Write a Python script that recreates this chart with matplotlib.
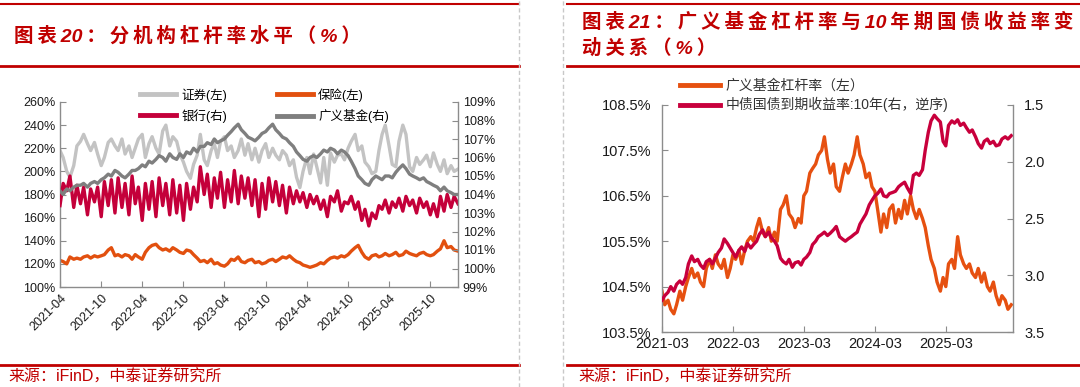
import numpy as np
import pandas as pd
import matplotlib
matplotlib.use('Agg')
import matplotlib.pyplot as plt
from matplotlib.lines import Line2D
from matplotlib.ticker import FuncFormatter, MultipleLocator

plt.rcParams['font.family'] = ['Liberation Sans', 'Noto Sans CJK SC']

# ---------------- data: chart 20 (half-month points, 2021-04 .. 2026-02)
left_dates = pd.date_range('2021-04-01', '2026-02-01', freq='SMS')

securities = [  # 证券(左)
    218, 212, 200, 195, 205, 222, 226, 232, 224, 218, 225, 215, 205, 212, 225, 228, 222, 218,
    228, 215, 222, 212, 220, 228, 232, 212, 224, 230, 220, 215, 235, 240, 222, 230, 226, 215, 208, 200, 194, 206, 214, 232,
    210, 205, 218, 224, 212, 226, 230, 218, 222, 212, 218, 228, 214, 224, 210, 220, 208, 218, 224, 212, 220, 214, 210, 218,
    214, 205, 210, 195, 186, 200, 212, 198, 215, 204, 190, 212, 188, 216, 208, 214, 215, 210, 220, 226, 232, 218, 222, 208,
    204, 198, 200, 218, 232, 240, 222, 206, 204, 226, 240, 232, 204, 200, 212, 206, 210, 214, 204, 216, 206, 200, 210, 198,
    205, 200, 202]

insurance = [  # 保险(左)
    123, 122, 120, 126, 124, 125, 124, 126, 127, 125, 127, 126, 127, 128, 132, 134, 127, 128,
    126, 128, 127, 124, 128, 126, 124, 130, 134, 136, 137, 134, 132, 133, 131, 134, 132, 130, 129, 132, 131, 128, 125, 122,
    123, 121, 124, 120, 121, 119, 118, 120, 124, 123, 126, 122, 121, 123, 124, 121, 122, 120, 121, 123, 124, 122, 124, 126,
    125, 127, 124, 122, 121, 119, 118, 117, 118, 119, 121, 120, 123, 125, 126, 125, 127, 126, 128, 131, 134, 136, 130, 126,
    124, 127, 128, 126, 127, 129, 127, 128, 130, 127, 128, 131, 129, 128, 127, 129, 130, 128, 127, 128, 131, 133, 140, 134,
    135, 132, 131]

banks = [  # 银行(右)
    103.4, 104.6, 104.2, 105.0, 103.3, 104.5, 103.5, 104.4, 102.9, 104.3, 103.6, 104.4, 102.8, 104.7, 103.4, 104.8, 103.0, 104.9,
    103.3, 104.6, 102.9, 105.0, 103.5, 104.4, 102.6, 104.6, 103.2, 104.7, 102.8, 104.9, 103.4, 104.6, 102.9, 104.8, 103.0, 104.5,
    102.6, 104.6, 103.2, 104.4, 103.6, 105.5,
    104.0, 105.1, 103.3, 104.9, 103.8, 105.2, 103.3, 104.8, 103.6, 105.3, 103.5, 105.0, 103.8, 104.9, 103.4, 104.8, 102.8, 104.6,
    103.2, 104.9, 103.6, 104.7, 103.4, 104.5,
    103.0, 104.4, 103.5, 104.2, 103.6, 104.1, 103.3, 104.0, 103.5, 103.9, 103.2, 103.7, 102.8, 103.9, 103.6, 104.2, 103.1, 103.6,
    103.5, 103.9, 103.2, 103.6, 102.6, 103.2,
    102.3, 103.0, 102.7, 103.4, 103.2, 103.7, 103.0, 103.6, 103.3, 103.8, 103.1, 103.9, 103.4, 103.7, 103.0, 103.8, 103.3, 103.6,
    102.9, 103.5, 102.8, 103.9, 103.1, 104.0,
    103.3, 103.9, 103.5]

funds = [  # 广义基金(右)
    104.2, 104.0, 104.3, 104.2, 104.4, 104.5, 104.5, 104.6, 104.4, 104.6, 104.7, 104.6, 104.8, 104.9, 105.1, 105.0, 105.3, 105.2,
    105.0, 104.9, 105.1, 105.3, 105.3, 105.4, 105.6, 105.5, 105.8, 105.7, 105.9, 106.1, 106.0, 105.8, 106.2, 106.0, 105.9, 106.2,
    106.0, 106.3, 106.2, 106.5, 106.3, 106.6,
    106.6, 106.8, 106.7, 107.0, 106.8, 106.9, 107.0, 107.2, 107.4, 107.6, 107.8, 107.5, 107.3, 107.1, 107.0, 106.9, 107.1, 107.3,
    107.4, 107.6, 107.8, 107.5, 107.3, 107.1,
    107.0, 106.8, 106.6, 106.3, 106.1, 105.9, 105.8, 106.0, 106.1, 106.0, 106.2, 106.4, 106.3, 106.5, 106.4, 106.2, 106.4, 106.3,
    106.1, 105.8, 105.4, 105.0, 104.8, 104.6,
    104.5, 104.8, 105.0, 104.9, 104.8, 105.0, 105.0, 104.9, 105.2, 105.4, 105.6, 105.4, 105.1, 105.0, 104.9, 104.8, 104.9, 104.7,
    104.6, 104.5, 104.4, 104.2, 104.4, 104.2,
    104.1, 104.0, 104.0]

left_ticks = pd.date_range('2021-04-01', '2025-10-01', freq='6MS')

# ---------------- data: chart 21 (half-month points, 2021-03 .. 2026-02)
right_dates = pd.date_range('2021-03-01', '2026-02-01', freq='SMS')

fund_leverage = [  # 广义基金杠杆率（左）
    104.4, 104.1, 104.2, 104.0, 103.9, 104.1, 104.4, 104.2, 104.5, 104.7, 104.9, 104.7, 104.8, 104.6, 104.5, 104.9, 105.1, 104.9,
    105.2, 105.0,
    104.9, 105.1, 104.7, 104.9, 105.2, 105.1, 105.3, 105.0, 105.3, 105.5, 105.6, 105.5, 105.8, 106.0, 105.7, 105.6, 105.8, 105.5,
    105.7, 105.5, 106.2, 106.3, 106.5, 106.1,
    106.0, 105.8, 106.0, 105.9, 106.5, 106.6, 107.0, 107.1, 107.2, 107.4, 107.5, 107.8, 107.3, 107.0, 107.2, 106.7, 106.6, 106.9,
    107.2, 107.0, 107.2, 107.4, 107.8, 107.4,
    107.2, 106.9, 107.0, 106.7, 106.6, 106.2, 105.7, 106.1, 105.8, 106.2, 106.3, 105.9, 106.2, 106.0, 106.4, 106.1, 106.5, 106.2,
    106.0, 106.2, 106.0, 105.8, 105.4, 105.1,
    104.9, 104.6, 104.4, 104.7, 104.5, 105.0, 105.1, 104.9, 105.6, 105.2, 105.0, 104.9, 105.0, 104.8, 104.7, 104.9, 104.6, 104.8,
    104.5, 104.4, 104.6, 104.3, 104.1, 104.3,
    104.2, 104.0, 104.1]

yield_10y = [  # 中债国债到期收益率:10年(右，逆序)
    3.22, 3.18, 3.15, 3.10, 3.14, 3.08, 3.05, 3.08, 3.02, 2.90, 2.83, 2.88, 2.86, 2.91, 2.94, 2.88, 2.86, 2.90, 2.85, 2.80,
    2.76, 2.68, 2.72, 2.76, 2.80, 2.84, 2.78, 2.75, 2.79, 2.72, 2.76, 2.73, 2.70, 2.64, 2.60, 2.66, 2.62, 2.67, 2.70, 2.74,
    2.85, 2.88, 2.90, 2.86,
    2.93, 2.89, 2.88, 2.91, 2.86, 2.84, 2.80, 2.73, 2.70, 2.66, 2.64, 2.62, 2.65, 2.63, 2.60, 2.57, 2.66, 2.68, 2.70, 2.68,
    2.66, 2.64, 2.62, 2.55,
    2.50, 2.46, 2.38, 2.34, 2.30, 2.28, 2.24, 2.30, 2.31, 2.28, 2.27, 2.26, 2.22, 2.20, 2.18, 2.23, 2.28, 2.12, 2.10, 2.12,
    2.07, 1.90, 1.74, 1.64,
    1.59, 1.62, 1.65, 1.82, 1.86, 1.68, 1.64, 1.66, 1.63, 1.68, 1.66, 1.70, 1.74, 1.72, 1.78, 1.84, 1.88, 1.82, 1.80, 1.84,
    1.82, 1.86, 1.85, 1.80,
    1.78, 1.80, 1.77]

right_ticks = pd.date_range('2021-03-01', '2025-03-01', freq='12MS')

RED = '#C00000'
SPINE = '#8c8c8c'
LW = 2.4

fig = plt.figure(figsize=(10.8, 3.87), dpi=100)
W, H = 1080, 387


def fx(px):
    return px / W


def fy(py):
    return 1 - py / H


def spaced(s):
    # titles in the source are letter-spaced; digits stay together
    out = s[0]
    for a, b in zip(s, s[1:]):
        out += b if (a.isdigit() and b.isdigit()) else '\u2009' + b
    return out


def style_axes(ax, sides):
    for s in ['top', 'left', 'right', 'bottom']:
        ax.spines[s].set_visible(s in sides)
        ax.spines[s].set_color(SPINE)
        ax.spines[s].set_linewidth(1.0)
    ax.tick_params(direction='in', length=4, width=0.8, color=SPINE, colors='#1a1a1a')
    ax.set_facecolor('none')


# ---------------- chart 20
ax1 = fig.add_axes([fx(60), fy(287), fx(398), 185 / H])
ax1b = ax1.twinx()
ax1.plot(left_dates, securities, color='#c3c3c3', lw=LW, label='证券(左)')
ax1.plot(left_dates, insurance, color='#e2500f', lw=LW, label='保险(左)')
ax1b.plot(left_dates, banks, color='#c4003a', lw=LW, label='银行(右)')
ax1b.plot(left_dates, funds, color='#7f7f7f', lw=LW, label='广义基金(右)')

ax1.set_ylim(100, 260)
ax1.yaxis.set_major_locator(MultipleLocator(20))
ax1.yaxis.set_major_formatter(FuncFormatter(lambda v, p: f'{v:.0f}%'))
ax1b.set_ylim(99, 109)
ax1b.yaxis.set_major_locator(MultipleLocator(1))
ax1b.yaxis.set_major_formatter(FuncFormatter(lambda v, p: f'{v:.0f}%'))
ax1.set_xlim(pd.Timestamp('2021-04-01'), pd.Timestamp('2026-02-01'))
ax1.set_xticks(left_ticks)
ax1.set_xticklabels([d.strftime('%Y-%m') for d in left_ticks], rotation=45,
                    ha='right', rotation_mode='anchor')
style_axes(ax1, ['left', 'bottom'])
style_axes(ax1b, ['right'])
ax1b.spines['left'].set_visible(False)
ax1b.spines['bottom'].set_visible(False)
ax1.tick_params(labelsize=9)
ax1b.tick_params(labelsize=9)
ax1.tick_params(axis='x', pad=4)

h1, l1 = ax1.get_legend_handles_labels()
h2, l2 = ax1b.get_legend_handles_labels()
handles = [h1[0], h2[0], h1[1], h2[1]]
labels = [l1[0], l2[0], l1[1], l2[1]]
leg1 = fig.legend(handles, labels, ncol=2, loc='upper left',
                  bbox_to_anchor=(fx(140), fy(88)), frameon=False, fontsize=9,
                  handlelength=2.9, handletextpad=0.4, columnspacing=4.0,
                  labelspacing=0.6, borderpad=0, borderaxespad=0)
for ln in leg1.get_lines():
    ln.set_linewidth(3.5)

# ---------------- chart 21
ax2 = fig.add_axes([fx(662), fy(332), fx(351), 227 / H])
ax2b = ax2.twinx()
ax2.plot(right_dates, fund_leverage, color='#e65010', lw=LW, label='广义基金杠杆率（左）')
ax2b.plot(right_dates, yield_10y, color='#c8003c', lw=LW, label='中债国债到期收益率:10年(右，逆序)')
ax2.set_ylim(103.5, 108.5)
ax2.set_yticks(np.arange(103.5, 108.6, 1.0))
ax2.yaxis.set_major_formatter(FuncFormatter(lambda v, p: f'{v:.1f}%'))
ax2b.set_ylim(3.5, 1.5)
ax2b.set_yticks(np.arange(1.5, 3.51, 0.5))
ax2b.yaxis.set_major_formatter(FuncFormatter(lambda v, p: f'{v:.1f}'))
ax2.set_xlim(pd.Timestamp('2021-03-01'), pd.Timestamp('2026-02-10'))
ax2.set_xticks(right_ticks)
ax2.set_xticklabels([d.strftime('%Y-%m') for d in right_ticks])
style_axes(ax2, ['left', 'bottom'])
style_axes(ax2b, ['right'])
ax2b.spines['left'].set_visible(False)
ax2b.spines['bottom'].set_visible(False)
ax2.tick_params(labelsize=10.5)
ax2b.tick_params(labelsize=10.5, pad=8)
ax2.tick_params(axis='y', pad=8)

h3, l3 = ax2.get_legend_handles_labels()
h4, l4 = ax2b.get_legend_handles_labels()
leg2 = fig.legend(h3 + h4, l3 + l4, loc='upper left',
                  bbox_to_anchor=(fx(680), fy(79)), frameon=False, fontsize=10,
                  handlelength=2.9, handletextpad=0.4, labelspacing=0.3,
                  borderpad=0, borderaxespad=0)
for ln in leg2.get_lines():
    ln.set_linewidth(3.5)
for t in leg2.get_texts():
    t.set_color('#333333')

# ---------------- frame: titles, rules, sources
title_font = ['Liberation Sans', 'DejaVu Sans', 'Noto Sans CJK SC']
fig.text(fx(14), fy(36), spaced('图表20：分机构杠杆率水平（%）'), color=RED, fontsize=14,
         fontweight='bold', style='italic', family=title_font, va='center')
fig.text(fx(582), fy(22), spaced('图表21：广义基金杠杆率与10年期国债收益率变'), color=RED,
         fontsize=14, fontweight='bold', style='italic', family=title_font, va='center')
fig.text(fx(582), fy(48), spaced('动关系（%）'), color=RED, fontsize=14, fontweight='bold',
         style='italic', family=title_font, va='center')

for x0, x1 in [(0, 519), (567, 1080)]:
    fig.add_artist(Line2D([fx(x0), fx(x1)], [fy(4), fy(4)], color=RED, lw=1.5))
    fig.add_artist(Line2D([fx(x0), fx(x1)], [fy(66), fy(66)], color=RED, lw=2.0))
    fig.add_artist(Line2D([fx(x0), fx(x1)], [fy(365), fy(365)], color=RED, lw=2.0))

for xv in [519, 563]:
    fig.add_artist(Line2D([fx(xv), fx(xv)], [0, 1], color='#c8c8c8', lw=1.0, ls=(0, (3, 2))))

fig.text(fx(8), fy(377), '来源：iFinD，中泰证券研究所', color=RED, fontsize=11.5,
         family=title_font, va='center')
fig.text(fx(578), fy(377), '来源：iFinD，中泰证券研究所', color=RED, fontsize=11.5,
         family=title_font, va='center')

fig.savefig('out.png', dpi=100)
